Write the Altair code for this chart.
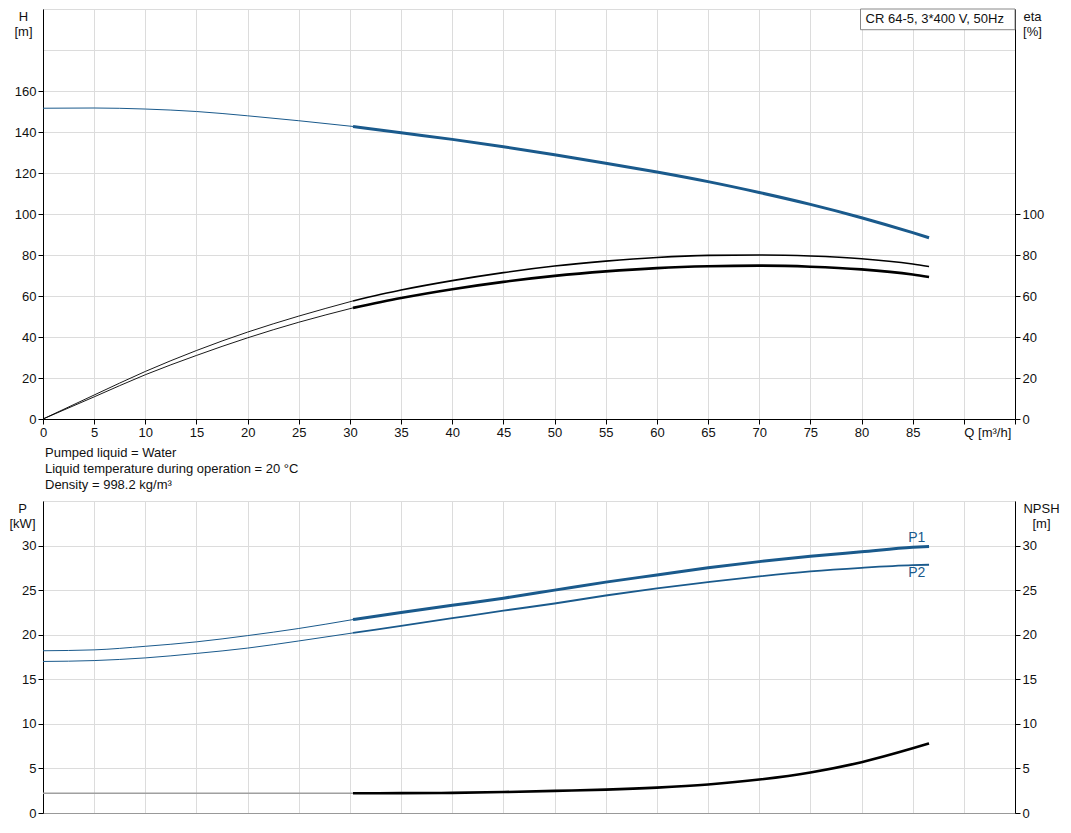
import altair as alt
import pandas as pd

# ---------------- data ----------------
Q_PTS = [0, 5, 10, 15, 20, 25, 30.3, 35, 40, 45, 50, 55, 60, 65, 70, 75, 80, 85, 86.6]
H_VALUES = [151.6, 151.7, 151.2, 150.0, 147.9, 145.5, 142.7, 139.6, 136.4, 132.8,
            128.9, 124.8, 120.5, 115.8, 110.5, 104.7, 98.2, 90.9, 88.4]
ETA_PUMP = [0, 11.7, 23.2, 33.4, 42.4, 50.2, 57.6, 62.9, 67.5, 71.4,
            74.6, 77.0, 78.8, 79.8, 80.0, 79.5, 78.2, 75.6, 74.4]
ETA_TOTAL = [0, 10.8, 21.6, 31.0, 39.6, 47.2, 54.2, 59.0, 63.3, 66.9,
             69.8, 72.0, 73.6, 74.5, 74.8, 74.3, 73.0, 70.5, 69.3]
P1_VALUES = [18.2, 18.3, 18.7, 19.2, 19.9, 20.7, 21.7, 22.5, 23.3, 24.1,
             25.0, 25.9, 26.7, 27.5, 28.2, 28.8, 29.3, 29.8, 29.9]
P2_VALUES = [17.0, 17.1, 17.4, 17.9, 18.5, 19.3, 20.2, 21.0, 21.85, 22.7,
             23.5, 24.4, 25.2, 25.9, 26.55, 27.1, 27.5, 27.8, 27.85]
NPSH_Q = [0, 30.3, 35, 40, 45, 50, 55, 60, 65, 70, 75, 80, 85, 86.6]
NPSH_VALUES = [2.22, 2.22, 2.23, 2.26, 2.35, 2.48, 2.62, 2.85, 3.2, 3.75, 4.55, 5.7, 7.25, 7.8]
DUTY_START = 30.3

Q_TICKS = [0, 5, 10, 15, 20, 25, 30, 35, 40, 45, 50, 55, 60, 65, 70, 75, 80, 85, 90, 95]
H_TICKS = [0, 20, 40, 60, 80, 100, 120, 140, 160, 180, 200]
ETA_TICKS = [0, 20, 40, 60, 80, 100]
P_TICKS = [0, 5, 10, 15, 20, 25, 30, 35]
NPSH_TICKS = [0, 5, 10, 15, 20, 25, 30]

PUMP_LABEL = "CR 64-5, 3*400 V, 50Hz"
BOX_Q = [79.9, 95]
BOX_H = [189.9, 200]
BOX_TEXT_Q = 80.4
BOX_TEXT_H = 194.9

CURVE_LABELS = ["P1", "P2"]
CURVE_LABEL_Q = [85.4, 85.4]
CURVE_LABEL_P = [30.9, 26.9]

INFO_LINES = ["Pumped liquid = Water",
              "Liquid temperature during operation = 20 °C",
              "Density = 998.2 kg/m³"]

# ---------------- styling ----------------
FONT = "Liberation Sans"
FS = 13
BLUE = "#1a5a8c"
W = 972
H_TOP = 410
H_BOT = 312


def split(name, qs, vs, thin, thick, c_thin, c_thick):
    rows = []
    for q, v in zip(qs, vs):
        if q <= DUTY_START:
            rows.append(dict(Q=q, v=v, seg=name + "-a", sw=thin, col=c_thin))
        if q >= DUTY_START:
            rows.append(dict(Q=q, v=v, seg=name + "-b", sw=thick, col=c_thick))
    return rows


def x_enc(labels=True):
    if labels:
        ax = alt.Axis(values=Q_TICKS, title=None, grid=True, labelFlush=False,
                      labelExpr="datum.value == 90 ? 'Q [m³/h]' : (datum.value == 95 ? '' : datum.label)",
                      labelAlign={"condition": {"test": "datum.value == 90", "value": "left"},
                                  "value": "center"},
                      domainColor="#000", tickColor="#000")
    else:
        ax = alt.Axis(values=Q_TICKS, title=None, grid=True, labels=False, ticks=False,
                      domainColor="#999")
    return alt.X("Q:Q", scale=alt.Scale(domain=[0, 95], nice=False, zero=False), axis=ax)


def left_axis(ticks, maxlab, title, tx):
    return alt.Axis(values=ticks, grid=True, orient="left",
                    labelExpr=f"datum.value > {maxlab} ? '' : datum.label",
                    tickOpacity={"condition": {"test": f"datum.value > {maxlab}", "value": 0}, "value": 1},
                    title=title, titleAngle=0, titleX=tx, titleY=11, titleAlign="center",
                    titleBaseline="alphabetic", titleLineHeight=15)


def right_axis(ticks, title, tx):
    return alt.Axis(values=ticks, grid=False, orient="right",
                    title=title, titleAngle=0, titleX=tx, titleY=11, titleAlign="center",
                    titleBaseline="alphabetic", titleLineHeight=15)


# ---------------- top panel ----------------
h_df = pd.DataFrame(split("H", Q_PTS, H_VALUES, 1, 3, BLUE, BLUE))
eta_df = pd.DataFrame(split("e1", Q_PTS, ETA_PUMP, 0.9, 1.6, "#000", "#000") +
                      split("e2", Q_PTS, ETA_TOTAL, 0.9, 2.6, "#000", "#000"))
box_df = pd.DataFrame({"Q": [BOX_Q[0]], "Q2": [BOX_Q[1]], "v": [BOX_H[0]], "v2": [BOX_H[1]]})
box_text_df = pd.DataFrame({"Q": [BOX_TEXT_Q], "v": [BOX_TEXT_H], "label": [PUMP_LABEL]})

h_scale = alt.Scale(domain=[0, 200], nice=False, zero=False)
h_axis = left_axis(H_TICKS, 160, ["H", "[m]"], -20)
eta_axis = right_axis(ETA_TICKS, ["eta", "[%]"], 17)

h_line = alt.Chart(h_df).mark_line(interpolate="monotone").encode(
    x=x_enc(True),
    y=alt.Y("v:Q", scale=h_scale, axis=h_axis),
    detail="seg:N",
    color=alt.Color("col:N", scale=None),
    strokeWidth=alt.StrokeWidth("sw:Q", scale=None),
)
box = alt.Chart(box_df).mark_rect(fill="white", stroke="#888", strokeWidth=1).encode(
    x=x_enc(True), x2="Q2:Q",
    y=alt.Y("v:Q", scale=h_scale, axis=h_axis), y2="v2:Q",
)
box_text = alt.Chart(box_text_df).mark_text(
    align="left", baseline="middle", font=FONT, fontSize=FS, color="#111"
).encode(
    x=x_enc(True),
    y=alt.Y("v:Q", scale=h_scale, axis=h_axis),
    text="label:N",
)
h_group = alt.layer(h_line, box, box_text)

eta_line = alt.Chart(eta_df).mark_line(interpolate="monotone").encode(
    x=x_enc(True),
    y=alt.Y("v:Q", scale=alt.Scale(domain=[0, 200], nice=False, zero=False), axis=eta_axis),
    detail="seg:N",
    color=alt.Color("col:N", scale=None),
    strokeWidth=alt.StrokeWidth("sw:Q", scale=None),
)

top = alt.layer(h_group, eta_line).resolve_scale(y="independent").properties(
    width=W, height=H_TOP
)

# ---------------- bottom panel ----------------
p_df = pd.DataFrame(split("P1", Q_PTS, P1_VALUES, 1, 3, BLUE, BLUE) +
                    split("P2", Q_PTS, P2_VALUES, 1, 1.8, BLUE, BLUE))
npsh_df = pd.DataFrame(split("N", NPSH_Q, NPSH_VALUES, 1.5, 2.6, "#a0a0a0", "#000"))
lab_df = pd.DataFrame({"Q": CURVE_LABEL_Q, "v": CURVE_LABEL_P, "label": CURVE_LABELS})

p_scale = alt.Scale(domain=[0, 35], nice=False, zero=False)
p_axis = left_axis(P_TICKS, 30, ["P", "[kW]"], -21)
npsh_axis = right_axis(NPSH_TICKS, ["NPSH", "[m]"], 26)

p_line = alt.Chart(p_df).mark_line(interpolate="monotone").encode(
    x=x_enc(False),
    y=alt.Y("v:Q", scale=p_scale, axis=p_axis),
    detail="seg:N",
    color=alt.Color("col:N", scale=None),
    strokeWidth=alt.StrokeWidth("sw:Q", scale=None),
)
p_labels = alt.Chart(lab_df).mark_text(
    align="center", baseline="middle", font=FONT, fontSize=FS + 1, color=BLUE
).encode(
    x=x_enc(False),
    y=alt.Y("v:Q", scale=p_scale, axis=p_axis),
    text="label:N",
)
p_group = alt.layer(p_line, p_labels)

npsh_line = alt.Chart(npsh_df).mark_line(interpolate="monotone").encode(
    x=x_enc(False),
    y=alt.Y("v:Q", scale=alt.Scale(domain=[0, 35], nice=False, zero=False), axis=npsh_axis),
    detail="seg:N",
    color=alt.Color("col:N", scale=None),
    strokeWidth=alt.StrokeWidth("sw:Q", scale=None),
)

bottom = alt.layer(p_group, npsh_line).resolve_scale(y="independent").properties(
    width=W, height=H_BOT,
    title=alt.TitleParams(INFO_LINES, anchor="start", frame="group", fontSize=FS,
                          fontWeight="normal", font=FONT, color="#111", lineHeight=16,
                          offset=9, dx=2),
)

chart = alt.vconcat(top, bottom, spacing=6).properties(padding=0).configure_axis(
    labelFont=FONT, titleFont=FONT, labelFontSize=FS, titleFontSize=FS,
    labelColor="#111", titleColor="#111", titleFontWeight="normal",
    domainColor="#000", tickColor="#000", gridColor="#dcdcdc", gridWidth=1,
    tickSize=5, labelPadding=2,
).configure_view(stroke="#777", strokeWidth=1)

chart.save("out.html", embed_options={"renderer": "svg", "actions": False})
